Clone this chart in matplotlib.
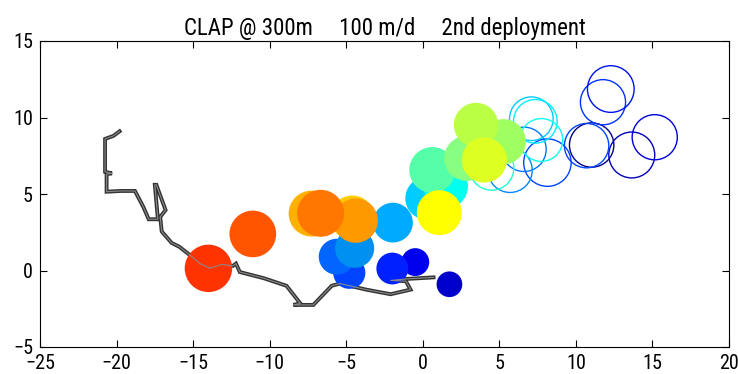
import numpy as np
import matplotlib
matplotlib.use('Agg')
import matplotlib.pyplot as plt
from matplotlib import font_manager
from matplotlib.patches import Circle

# pick a narrow sans face if there is one (MATLAB-ish look)
avail = {f.name for f in font_manager.fontManager.ttflist}
fam = 'DejaVu Sans'
for cand in ['Liberation Sans Narrow', 'Roboto Condensed', 'Open Sans Condensed', 'Liberation Sans']:
    if cand in avail:
        fam = cand
        break
plt.rcParams['font.family'] = [fam, 'DejaVu Sans']

# float track (km)
track_x = [-19.8, -20.2, -20.75, -20.75, -20.3, -20.65, -20.65, -19.7, -18.8, -18.25,
           -17.9, -17.3, -17.5, -17.4, -16.8, -17.15, -17.05, -16.4, -15.9, -15.2,
           -14.55, -13.9, -13.1, -12.4, -12.2, -11.95, -10.4, -8.9, -8.0, -8.45,
           -7.15, -5.95, -5.4, -3.7, -2.1, -0.8, -1.1, -2.1, -1.05, 0.7]
track_y = [9.1, 8.8, 8.6, 6.45, 6.35, 6.3, 5.15, 5.2, 5.2, 4.15,
           3.35, 3.35, 5.6, 5.6, 3.95, 3.5, 2.55, 1.8, 1.55, 1.0,
           0.45, 0.15, 0.4, 0.3, 0.45, -0.1, -0.5, -1.0, -2.15, -2.25,
           -2.25, -1.0, -0.85, -1.25, -1.55, -1.25, -0.7, -0.65, -0.55, -0.45]

# filled circles: position, diameter, colour (drawn in this order)
fill_x = [1.74, -0.49, -1.99, -4.80, -5.62, -4.45, -1.95, 0.26, 1.5, 0.62,
          2.87, 5.26, 3.48, 4.02, 1.08, -4.6, -7.26, -4.38, -6.67, -11.1, -14.0]
fill_y = [-0.90, 0.55, 0.13, -0.15, 0.90, 1.45, 3.13, 4.72, 5.5, 6.57,
          7.33, 8.42, 9.51, 7.22, 3.78, 3.45, 3.72, 3.26, 3.74, 2.39, 0.14]
fill_d = [1.68, 1.82, 2.08, 2.10, 2.35, 2.55, 2.60, 2.80, 2.90, 3.0,
          2.95, 2.95, 2.90, 2.95, 2.94, 2.9, 3.0, 2.9, 3.07, 3.05, 3.1]
fill_col = ['#0000CC', '#0000EE', '#0020FF', '#0044FF', '#0066FF', '#0090F0', '#00AAFF',
            '#00CCFF', '#00FFEE', '#55FFAA', '#88FF80', '#A0FF60', '#BBFF44', '#DDFF22',
            '#FFFF00', '#FFCC00', '#FFB000', '#FF9900', '#FF7700', '#FF5500', '#FF3300']

# open circles
open_x = [11.03, 11.77, 12.28, 13.65, 15.15, 10.7, 8.14, 6.61, 5.7, 7.09, 7.35, 7.74, 4.5]
open_y = [8.2, 11.0, 11.86, 7.55, 8.71, 8.16, 7.05, 7.92, 6.55, 9.92, 9.75, 8.53, 6.7]
open_d = [2.9, 2.95, 3.05, 3.0, 2.95, 2.9, 3.1, 2.9, 2.9, 2.85, 2.85, 2.8, 2.9]
open_col = ['#000080', '#0033FF', '#0011EE', '#0000BB', '#0000DD', '#0044FF', '#0044FF',
            '#0077FF', '#0088FF', '#00CCFF', '#00EEFF', '#11FFEE', '#22FFCC']

fig = plt.figure(figsize=(7.38, 3.74), dpi=100)
ax = fig.add_axes([40/738, 27/374, 689/738, 306/374])

ax.plot(track_x, track_y, color='#333333', lw=2.8, zorder=1, solid_joinstyle='miter')

for x, y, d, c in zip(open_x, open_y, open_d, open_col):
    ax.add_patch(Circle((x, y), d/2, fill=False, ec=c, lw=1.0, zorder=2))

for x, y, d, c in zip(fill_x, fill_y, fill_d, fill_col):
    ax.add_patch(Circle((x, y), d/2, fc=c, ec='none', zorder=3))

ax.plot(track_x, track_y, color='#8a8a8a', lw=0.8, zorder=4)

ax.set_xlim(-25, 20)
ax.set_ylim(-5, 15)
ax.set_xticks(range(-25, 21, 5))
ax.set_yticks(range(-5, 16, 5))
ax.tick_params(direction='in', top=True, right=True, length=5, width=0.8,
               labelsize=14.5)
ax.tick_params(axis='x', pad=5)
ax.tick_params(axis='y', pad=5)
for s in ax.spines.values():
    s.set_linewidth(0.8)

ax.set_title('CLAP @ 300m     100 m/d     2nd deployment', fontsize=16.5, pad=4)

fig.savefig('out.png', dpi=100)
